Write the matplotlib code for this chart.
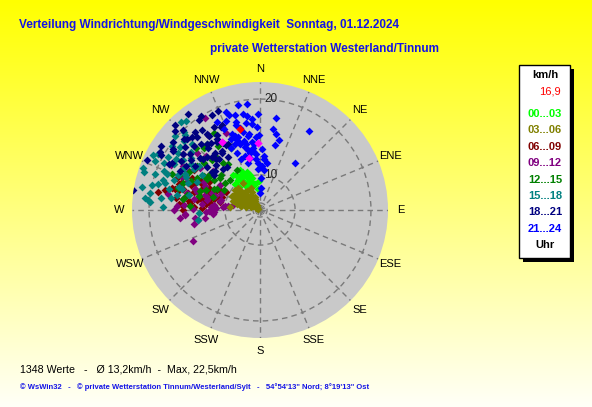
import numpy as np
import matplotlib
matplotlib.use('Agg')
import matplotlib.pyplot as plt
from matplotlib.patches import Rectangle

plt.rcParams['font.family'] = ['Liberation Sans', 'DejaVu Sans']

# --- data (direction in degrees, speed in km/h) ---
dir_names = ['N', 'NNE', 'NE', 'ENE', 'E', 'ESE', 'SE', 'SSE',
             'S', 'SSW', 'SW', 'WSW', 'W', 'WNW', 'NW', 'NNW']
ring_values = [3.8, 10, 20]
ring_labels = ['', '10', '20']
r_max = 21.8

hour_labels = ['00...03', '03...06', '06...09', '09...12',
               '12...15', '15...18', '18...21', '21...24']
hour_colors = ['#00ff00', '#808000', '#800000', '#800080',
               '#008000', '#008080', '#000080', '#0000ff']

dir_00 = [328, 331, 324, 337, 358, 335, 340, 345, 330, 326, 338, 342, 333, 318, 350, 336, 329, 344, 322, 339,
          327, 334, 341, 347, 316, 332, 354, 343]
spd_00 = [10.4, 10.5, 10.3, 9.2, 9.0, 11.0, 9.8, 9.6, 8.6, 11.2, 10.0, 8.9, 10.8, 9.3, 8.5, 10.8, 9.9, 10.2, 11.5, 8.2,
          9.6, 11.6, 10.9, 8.4, 10.2, 10.6, 7.4, 9.0]

dir_03 = [276, 309, 328, 300, 315, 290, 320, 335, 305, 295, 285, 312, 325, 340, 298, 318, 282, 302, 310, 330,
          292, 316, 322, 306, 288, 300, 314, 326, 296, 308, 280, 319, 311, 303, 297, 323, 334, 287, 313, 301,
          283, 293, 304, 317, 327, 338, 299, 309, 321, 289, 312, 331, 296, 306, 315]
spd_03 = [9.1, 9.5, 9.4, 8.8, 8.5, 8.2, 7.9, 7.0, 7.5, 7.2, 8.0, 6.8, 6.5, 5.8, 6.2, 5.5, 6.9, 5.0, 4.5, 4.8,
          5.6, 3.8, 4.0, 3.2, 4.6, 2.5, 2.8, 3.5, 3.0, 2.0, 5.9, 6.6, 7.7, 8.6, 7.8, 6.0, 5.2, 7.4, 9.0, 8.3,
          7.0, 6.0, 6.4, 7.2, 7.8, 8.0, 4.0, 5.4, 5.8, 8.8, 8.0, 6.2, 9.3, 9.0, 9.4]

dir_06 = [273, 284, 297, 286, 284, 301, 278, 290, 293, 281, 275, 288, 295, 299, 283, 279, 287, 292, 276, 285,
          294, 280, 289, 296, 282, 277, 291, 298, 274, 286, 303, 288, 281, 295, 279, 280, 282, 270, 284, 291,
          272, 276, 283, 287, 290, 278, 285, 293, 281, 288, 274, 296, 279, 284, 289]
spd_06 = [14.7, 16.8, 11.6, 13.2, 17.3, 16.1, 12.5, 14.0, 15.2, 13.8, 11.8, 12.9, 14.5, 13.5, 15.6, 16.0, 11.2, 12.2, 13.0, 15.0,
          16.5, 14.2, 10.8, 12.0, 12.6, 15.4, 13.6, 10.5, 16.2, 14.8, 14.1, 17.0, 11.0, 15.8, 13.4, 19.2, 18.5, 16.0, 17.7, 17.5,
          13.5, 15.2, 14.0, 12.4, 15.6, 17.0, 16.4, 13.2, 12.8, 14.9, 16.6, 14.6, 14.3, 12.0, 16.9]

dir_09 = [245, 261, 266, 274, 275, 280, 297, 329, 336, 268, 272, 278, 283, 286, 264, 270, 276, 282, 288, 291,
          294, 300, 305, 310, 315, 320, 271, 279, 284, 262, 267, 273, 289, 296, 302, 325, 258, 277, 285, 292, 267, 280,
          263, 269, 271, 276, 281, 287, 290, 265, 274, 283, 278, 293, 299, 306, 312]
spd_09 = [15.6, 14.2, 15.8, 12.2, 10.3, 8.6, 18.8, 19.6, 16.9, 13.0, 11.5, 9.5, 12.8, 14.5, 16.5, 17.2, 13.6, 11.0, 15.0, 16.2,
          13.8, 17.5, 15.5, 14.0, 16.0, 15.2, 12.0, 14.8, 10.8, 13.2, 11.8, 16.8, 12.5, 14.2, 12.0, 17.8, 14.8, 10.0, 13.4, 11.2, 15.8, 18.0,
          14.5, 12.5, 14.8, 11.8, 13.0, 12.0, 13.6, 12.0, 16.0, 15.8, 16.2, 17.0, 16.5, 18.2, 17.0]

dir_12 = [329, 282, 273, 315, 330, 300, 305, 290, 310, 320, 295, 285, 325, 312, 298, 288, 318, 303, 293, 308,
          278, 322, 335, 296, 314, 286, 301, 327, 292, 306,
          297, 304, 311, 316, 289, 283, 321, 309, 299, 294]
spd_12 = [17.6, 15.7, 15.2, 11.2, 11.8, 14.0, 16.0, 13.5, 15.5, 14.8, 12.5, 17.0, 13.2, 12.8, 16.5, 14.2, 16.8, 13.0, 15.8, 11.5,
          16.2, 13.8, 15.0, 12.0, 17.5, 12.2, 14.5, 16.0, 18.2, 14.0,
          15.2, 13.8, 16.2, 15.0, 16.6, 14.2, 17.0, 12.6, 11.0, 17.4]

dir_15 = [290, 275, 279, 287, 311, 318, 312, 276, 274, 267, 261, 295, 300, 305, 283, 281, 293, 298, 303, 308,
          285, 289, 296, 302, 307, 314, 278, 284, 292, 299, 306, 282, 288, 294, 272, 297, 301, 286, 316, 291,
          280, 286, 291, 296, 301, 306, 277, 283, 289, 294, 299, 304, 310, 315, 320]
spd_15 = [21.4, 20.2, 20.0, 19.0, 20.2, 20.8, 19.1, 20.5, 19.9, 13.9, 14.2, 20.5, 19.5, 18.8, 18.0, 21.0, 17.5, 18.5, 17.8, 19.0,
          16.5, 20.0, 16.8, 16.2, 17.2, 18.2, 17.6, 19.4, 19.2, 20.6, 15.8, 15.5, 21.2, 15.0, 18.4, 21.0, 14.8, 17.0, 19.8, 18.8,
          17.0, 18.6, 16.0, 19.6, 18.6, 19.8, 18.8, 20.0, 17.8, 16.6, 17.2, 16.8, 17.6, 19.4, 20.5]

dir_18 = [294, 279, 308, 337, 333, 323, 314, 315, 300, 305, 310, 318, 320, 325, 328, 330, 312, 316, 322, 326,
          302, 306, 309, 313, 317, 321, 324, 297, 303, 311, 319, 327, 331, 335, 299, 304, 315, 320, 329, 296,
          307, 313, 318, 325, 332,
          301, 306, 311, 316, 321, 326, 331, 336, 304, 309, 314, 319, 324, 329, 334, 298, 308, 318, 328, 322]
spd_18 = [21.4, 21.9, 19.9, 19.6, 19.5, 21.0, 17.8, 15.8, 20.5, 19.5, 18.5, 17.5, 19.0, 18.0, 16.5, 17.2, 16.0, 20.0, 15.5, 19.8,
          18.0, 17.0, 15.0, 19.2, 18.8, 14.5, 16.8, 19.0, 20.8, 13.8, 14.8, 15.2, 18.2, 17.8, 20.2, 16.2, 21.0, 16.5, 14.0, 17.5,
          13.5, 20.6, 13.2, 17.6, 15.6,
          17.2, 18.2, 16.4, 14.2, 17.0, 15.0, 16.0, 18.0, 19.4, 17.6, 19.0, 18.4, 18.6, 16.8, 15.6, 18.8, 14.0, 15.4, 20.0, 13.0]

dir_21 = [32, 37, 9, 13, 12, 4, 359, 348, 341, 350, 355, 345, 352, 357, 340, 343, 347, 353, 356, 2,
          6, 338, 344, 349, 351, 354, 358, 342, 346, 336, 339, 0, 3, 15, 10, 8, 1, 357, 334, 348,
          353, 346, 350, 341, 355,
          343, 347, 351, 355, 359, 340, 344, 348, 352, 356, 338, 342, 335, 345, 349, 353, 357, 339, 2, 5]
spd_21 = [18.0, 13.6, 16.7, 14.7, 16.2, 13.0, 18.3, 19.6, 19.2, 18.5, 17.2, 17.8, 16.0, 15.5, 16.5, 15.0, 14.5, 13.8, 12.5, 11.5,
          10.8, 14.0, 13.2, 12.8, 15.8, 14.2, 16.8, 18.8, 17.0, 17.5, 15.2, 6.4, 7.5, 15.5, 18.0, 12.0, 9.5, 11.0, 18.5, 14.8,
          19.5, 12.2, 13.5, 16.2, 17.8,
          16.0, 15.2, 17.4, 14.6, 15.8, 13.0, 17.5, 16.4, 18.2, 13.2, 16.0, 15.6, 15.0, 18.6, 14.0, 15.0, 12.0, 18.2, 14.0, 12.6]

dir_marks = [358.5, 348, 331]
spd_marks = [14.7, 12.8, 16.1]
dir_now = [346]
spd_now = [16.9]

n_values = 1348
mean_speed = 13.2
max_speed = 22.5

series_dirs = [dir_00, dir_03, dir_06, dir_09, dir_12, dir_15, dir_18, dir_21]
series_spds = [spd_00, spd_03, spd_06, spd_09, spd_12, spd_15, spd_18, spd_21]
# drawing order: olive on top near the centre, then the late hours
series_z = [3.05, 3.5, 3.0, 3.1, 3.2, 3.3, 3.4, 3.45]

W, H = 592, 407


def fx(x):
    return x / W


def fy(y):
    return 1 - y / H


def fwd(v):
    return np.power(np.clip(v, 0, None), 1.66)


def inv(r):
    return np.power(np.clip(r, 0, None), 1 / 1.66)


fig = plt.figure(figsize=(W / 100, H / 100), dpi=100)

# yellow gradient background
bg = fig.add_axes([0, 0, 1, 1], zorder=-10)
grad = np.linspace(0, 0.97, 256)
img = np.ones((256, 1, 3))
img[:, 0, 2] = grad
bg.imshow(img, aspect='auto', extent=[0, 1, 0, 1])
bg.axis('off')

# polar plot
cx, cy, rad = 260, 210, 128
ax = fig.add_axes([fx(cx - rad), fy(cy + rad), 2 * rad / W, 2 * rad / H], projection='polar')
ax.set_theta_zero_location('N')
ax.set_theta_direction(-1)
ax.set_rscale('function', functions=(fwd, inv))
ax.set_rlim(0, r_max)
ax.set_facecolor('#c9c9c9')
ax.spines['polar'].set_visible(False)
ax.set_thetagrids(np.arange(0, 360, 22.5), labels=[])
ax.set_rgrids(ring_values, labels=[])
ax.grid(True, color='#7a7a7a', linestyle=(0, (4, 3)), lw=1)

for i, name in enumerate(dir_names):
    ang = np.deg2rad(i * 22.5)
    ax.text(0.5 + 0.551 * np.sin(ang), 0.5 + 0.551 * np.cos(ang), name,
            transform=ax.transAxes, ha='center', va='center', fontsize=8)

for v, lab in zip(ring_values, ring_labels):
    ax.annotate(lab, xy=(0, v), xytext=(3, 0), textcoords='offset points',
                ha='left', va='center', fontsize=8.5, color='#202020')

for d, s, c, z in zip(series_dirs, series_spds, hour_colors, series_z):
    ax.scatter(np.deg2rad(d), s, marker='D', s=16, c=c, linewidths=0, zorder=z)
ax.scatter(np.deg2rad(dir_marks), spd_marks, marker='D', s=18, c='#ff00ff', linewidths=0, zorder=4)
ax.scatter(np.deg2rad(dir_now), spd_now, marker='D', s=18, c='#ff0000', linewidths=0, zorder=4)

# titles
blue = '#1414e6'
fig.text(fx(19), fy(25), 'Verteilung Windrichtung/Windgeschwindigkeit  Sonntag, 01.12.2024',
         ha='left', va='center', fontsize=8.5, fontweight='bold', color=blue)
fig.text(fx(210), fy(49), 'private Wetterstation Westerland/Tinnum',
         ha='left', va='center', fontsize=8.5, fontweight='bold', color=blue)

# legend box
fig.add_artist(Rectangle((fx(523), fy(262)), 51 / W, 193 / H, transform=fig.transFigure,
                         facecolor='black', edgecolor='none'))
fig.add_artist(Rectangle((fx(519), fy(258)), 51 / W, 193 / H, transform=fig.transFigure,
                         facecolor='white', edgecolor='black', lw=1))
fig.text(fx(545), fy(75), 'km/h', ha='center', va='center', fontsize=8, fontweight='bold')
fig.text(fx(550), fy(92), f'{spd_now[0]:.1f}'.replace('.', ','), ha='center', va='center',
         fontsize=8, color='#ff0000')
for i, (lab, c) in enumerate(zip(hour_labels, hour_colors)):
    fig.text(fx(545), fy(114 + 16.4 * i), lab, ha='center', va='center',
             fontsize=8, fontweight='bold', color=c)
fig.text(fx(545), fy(245), 'Uhr', ha='center', va='center', fontsize=8, fontweight='bold')

# footer
stats = f'{n_values} Werte   -   Ø {mean_speed:.1f}km/h  -  Max. {max_speed:.1f}km/h'.replace('.', ',')
fig.text(fx(20), fy(369), stats, ha='left', va='center', fontsize=7.7)
fig.text(fx(20), fy(387), '© WsWin32   -   © private Wetterstation Tinnum/Westerland/Sylt   -   '
         '54°54\'13" Nord; 8°19\'13" Ost', ha='left', va='center', fontsize=5.5, fontweight='bold', color=blue)

fig.savefig('out.png', dpi=100)
